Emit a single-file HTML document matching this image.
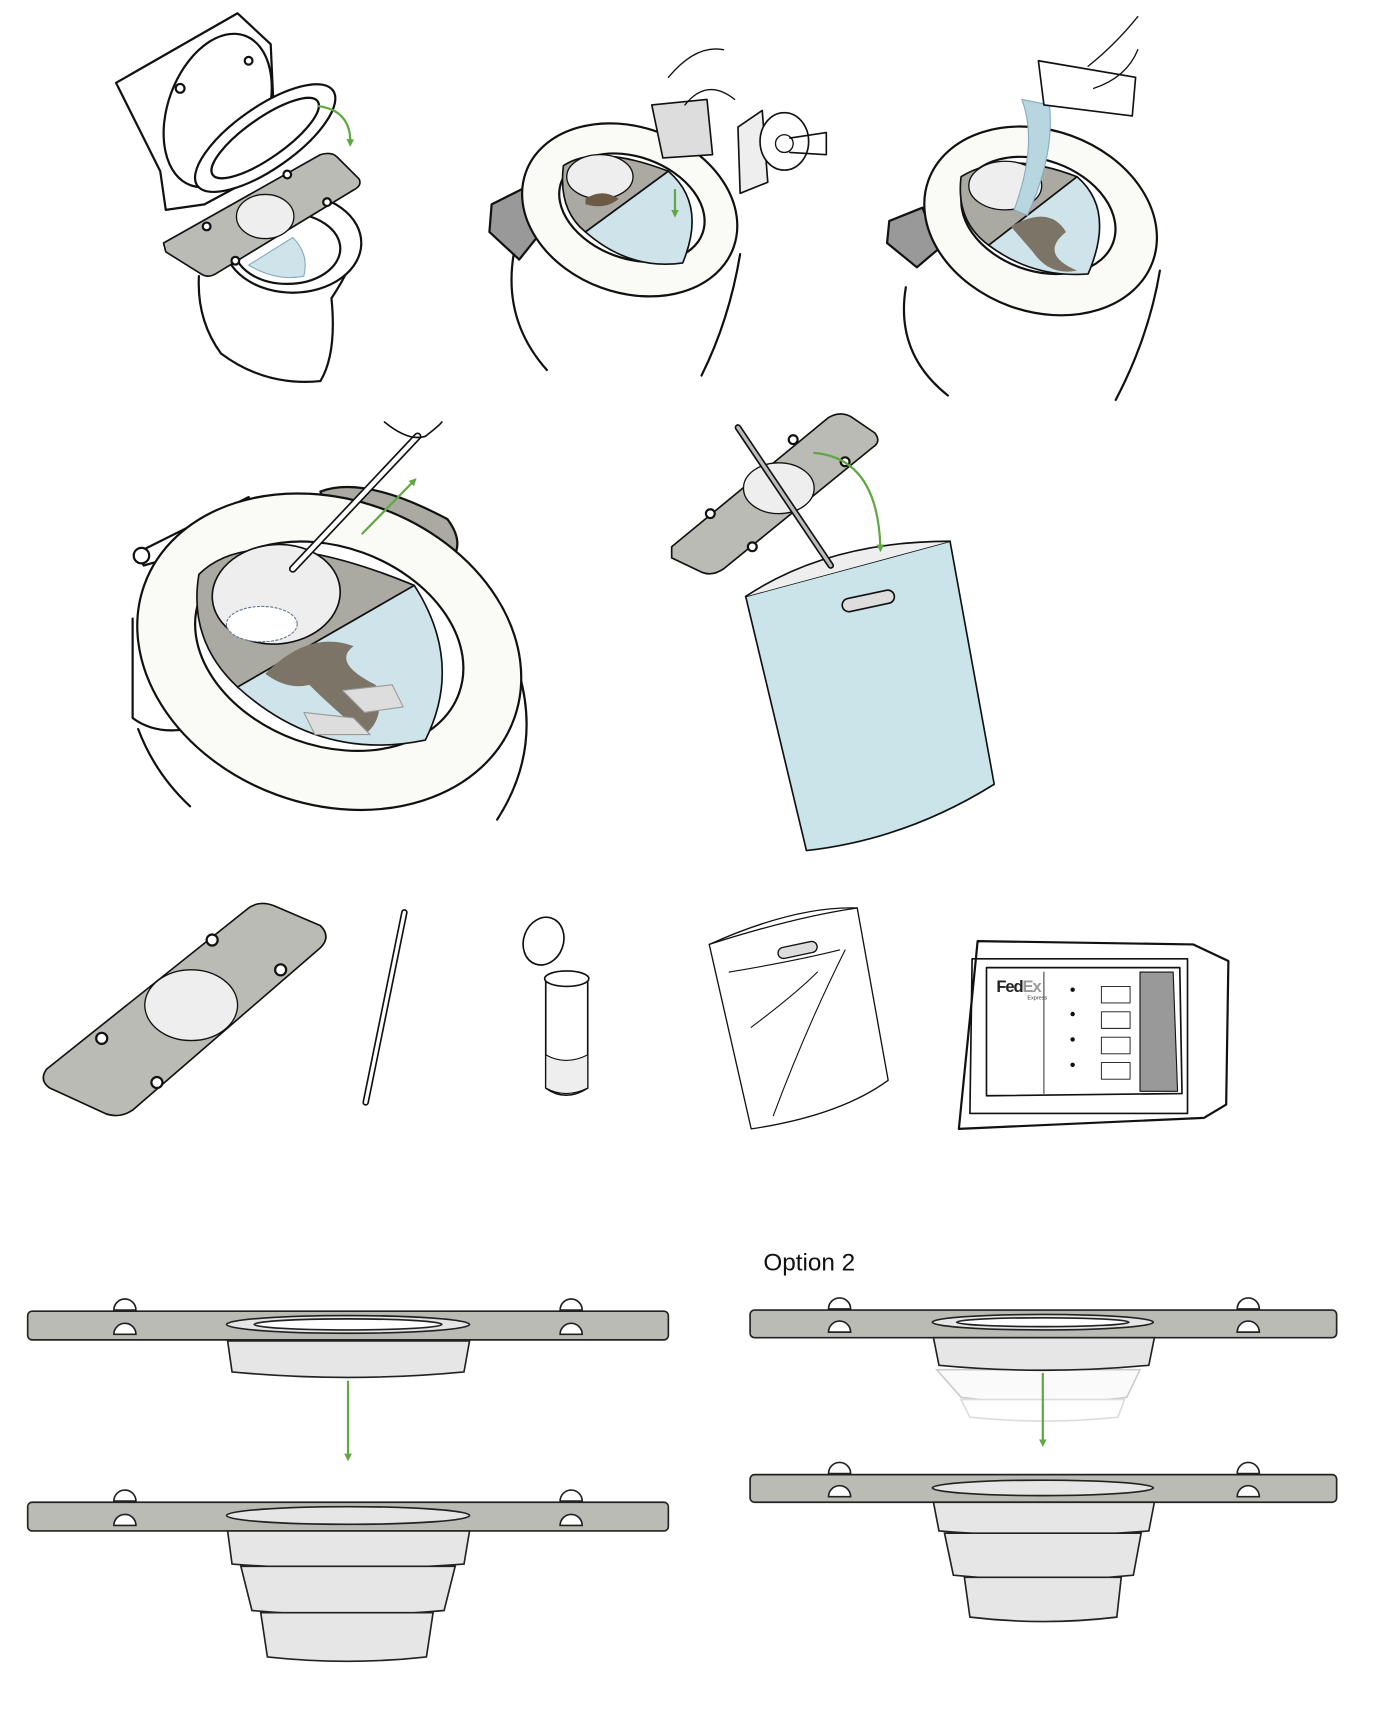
<!DOCTYPE html>
<html><head><meta charset="utf-8"><style>
html,body{margin:0;padding:0;background:#fff;}
svg{display:block;}
text{font-family:"Liberation Sans",sans-serif;}
</style></head><body>
<svg width="1382" height="1732" viewBox="0 0 1251 1568" xmlns="http://www.w3.org/2000/svg">
<defs>
<marker id="ah" markerUnits="userSpaceOnUse" markerWidth="8" markerHeight="8" refX="4" refY="4" orient="auto"><path d="M0,0.5 L7,4 L0,7.5 z" fill="#5fa844"/></marker>
</defs>
<g fill="none" stroke="#111" stroke-width="2" stroke-linejoin="round" stroke-linecap="round">

<!-- Panel 1 -->
<path d="M105,75 L215,12 L245,40 L250,150 L185,185 L150,190 L145,155 Z" fill="#fff"/>
<ellipse cx="197" cy="100" rx="45" ry="72" transform="rotate(20 197 100)" fill="#fff"/>
<circle cx="163" cy="80" r="4"/><circle cx="225" cy="55" r="3.5"/>
<path d="M180,250 Q178,290 200,320 Q240,350 290,345 Q305,320 300,270 Q320,240 325,215"/>
<ellipse cx="265" cy="220" rx="62" ry="45" fill="#fff"/>
<ellipse cx="260" cy="225" rx="48" ry="32"/>
<path d="M225,240 Q250,255 275,250 Q280,230 265,215 Z" fill="#cfe4ea" stroke="#8ab" stroke-width="1"/>
<ellipse cx="240" cy="125" rx="75" ry="28" transform="rotate(-35 240 125)" fill="#fff"/>
<ellipse cx="240" cy="125" rx="58" ry="18" transform="rotate(-35 240 125)"/>
<path d="M148,220 L290,140 Q300,137 305,142 L325,162 Q328,168 320,172 L195,248 Q188,252 182,248 L150,228 Z" fill="#bbbbb5" stroke-width="1.5"/>
<ellipse cx="240" cy="196" rx="26" ry="20" fill="#eee" stroke-width="1.2"/>
<circle cx="260" cy="158" r="3.5" fill="#fff"/><circle cx="296" cy="183" r="3.5" fill="#fff"/><circle cx="187" cy="205" r="3.5" fill="#fff"/><circle cx="213" cy="236" r="3.5" fill="#fff"/>
<path d="M288,96 Q318,100 317,130" stroke="#5fa844" stroke-width="2" marker-end="url(#ah)"/>

<!-- Panel 2 -->
<path d="M445,185 L475,170 L490,210 L470,235 L443,210 Z" fill="#999"/>
<path d="M465,230 Q455,290 495,335"/><path d="M670,230 Q660,290 635,340"/>
<ellipse cx="570" cy="190" rx="100" ry="75" transform="rotate(20 570 190)" fill="#fafaf6"/>
<ellipse cx="572" cy="188" rx="68" ry="46" transform="rotate(20 572 188)" fill="#fff"/>
<path d="M510,150 Q540,130 605,155 L530,210 Q505,190 510,150 Z" fill="#aaa9a2" stroke-width="1.5"/>
<path d="M605,155 Q640,185 618,238 Q570,245 530,210 Z" fill="#cfe4ea" stroke-width="1.5"/>
<ellipse cx="543" cy="160" rx="30" ry="20" fill="#eee" stroke-width="1.2"/>
<path d="M530,180 Q545,170 560,180 Q548,190 530,185Z" fill="#6d5a45" stroke="none"/>
<path d="M590,95 L640,90 L645,140 L600,143 Z" fill="#ddd" stroke-width="1.5"/>
<path d="M605,70 Q630,40 655,45 M620,95 Q640,70 665,90" stroke-width="1.2"/>
<path d="M668,115 L690,100 L695,165 L670,175 Z" fill="#eee" stroke-width="1.5"/>
<ellipse cx="710" cy="128" rx="22" ry="26" fill="#fff" stroke-width="1.5"/>
<circle cx="710" cy="130" r="8" stroke-width="1.2"/>
<path d="M715,125 L748,120 L748,140 L715,138" stroke-width="1.5"/>
<path d="M611,172 L611,194" stroke="#5fa844" marker-end="url(#ah)"/>

<!-- Panel 3 -->
<path d="M805,200 L835,188 L850,225 L830,242 L803,220 Z" fill="#999"/>
<path d="M820,260 Q810,320 858,358"/><path d="M1050,245 Q1040,305 1010,362"/>
<ellipse cx="942" cy="200" rx="108" ry="82" transform="rotate(20 942 200)" fill="#fafaf6"/>
<ellipse cx="940" cy="195" rx="72" ry="50" transform="rotate(20 940 195)" fill="#fff"/>
<path d="M870,160 Q910,135 975,160 L895,222 Q865,200 870,160 Z" fill="#aaa9a2" stroke-width="1.5"/>
<path d="M975,160 Q1010,190 985,248 Q935,252 895,222 Z" fill="#cfe4ea" stroke-width="1.5"/>
<path d="M915,205 Q950,185 965,210 Q940,230 975,245 Q950,250 935,228 Z" fill="#7d7468" stroke="none"/>
<ellipse cx="910" cy="168" rx="33" ry="22" fill="#eee" stroke-width="1.2"/>
<path d="M925,90 Q940,130 918,190 L930,195 Q955,140 950,95 Z" fill="#b7d6df" stroke="#8ab" stroke-width="1"/>
<path d="M940,55 L1028,70 L1025,105 L945,95 Z" fill="#fff" stroke-width="1.5"/>
<path d="M985,60 Q1010,40 1030,15 M990,80 Q1020,70 1030,45" stroke-width="1.2"/>

<!-- Panel 4 -->
<path d="M125,500 L225,450 L240,480 L130,512 Z" fill="#fff"/>
<circle cx="128" cy="503" r="7" fill="#fff"/>
<path d="M290,445 Q330,430 405,470 Q420,490 410,505 L300,470 Z" fill="#aaa9a2"/>
<path d="M120,560 L120,650 Q140,665 170,660"/>
<path d="M172,730 Q140,700 125,660" />
<path d="M470,610 Q490,680 450,742"/>
<ellipse cx="298" cy="590" rx="178" ry="138" transform="rotate(20 298 590)" fill="#fafaf6"/>
<ellipse cx="298" cy="585" rx="125" ry="90" transform="rotate(20 298 585)" fill="#fff"/>
<path d="M180,520 Q230,470 375,530 L215,622 Q170,580 180,520 Z" fill="#aaa9a2" stroke-width="1.5"/>
<path d="M375,530 Q420,600 385,670 Q290,690 215,622 Z" fill="#cfe4ea" stroke-width="1.5"/>
<path d="M240,610 Q280,570 320,585 Q300,600 340,620 Q350,650 330,665 Q300,640 280,620 Q260,625 240,610 Z" fill="#7d7468" stroke="none"/>
<path d="M310,625 L355,620 L365,640 L330,645 Z" fill="#ddd" stroke="#999" stroke-width="1"/>
<path d="M275,645 L320,650 L335,665 L285,665 Z" fill="#ddd" stroke="#999" stroke-width="1"/>
<ellipse cx="250" cy="538" rx="58" ry="45" transform="rotate(-5 250 538)" fill="#eee" stroke-width="1.5"/>
<ellipse cx="237" cy="565" rx="32" ry="16" fill="#fff" stroke="#678" stroke-dasharray="2 2" stroke-width="1"/>
<path d="M265,515 L378,395" stroke-width="7"/><path d="M265,515 L378,395" stroke="#fff" stroke-width="4"/>
<path d="M348,382 Q370,400 385,395 Q398,385 400,382" stroke-width="1.5"/>
<path d="M328,483 L375,435" stroke="#5fa844" marker-end="url(#ah)"/>

<!-- Panel 5 -->
<path d="M675,540 L860,490 L900,710 Q820,760 730,770 Z" fill="#cae4ea" stroke-width="1.5"/>
<path d="M675,540 Q750,490 860,490" fill="#eee" stroke-width="1.5"/>
<rect x="762" y="538" width="48" height="12" rx="6" transform="rotate(-12 786 544)" fill="#ddd" stroke-width="1.5"/>
<path d="M608,495 L750,378 Q760,372 770,377 L792,392 Q798,400 790,405 L655,515 Q645,522 635,518 L608,505 Z" fill="#bbbbb5" stroke-width="1.5"/>
<ellipse cx="705" cy="442" rx="32" ry="23" fill="#eee" stroke-width="1.2"/>
<circle cx="718" cy="398" r="4" fill="#fff"/><circle cx="765" cy="418" r="4" fill="#fff"/><circle cx="643" cy="465" r="4" fill="#fff"/><circle cx="681" cy="495" r="4" fill="#fff"/>
<path d="M668,387 L752,512" stroke-width="6"/><path d="M668,387 L752,512" stroke="#bbb" stroke-width="3"/>
<path d="M737,410 Q795,415 797,497" stroke="#5fa844" marker-end="url(#ah)"/>

<!-- Row 3 items -->
<path d="M42,968 L225,822 Q235,815 248,820 L290,838 Q300,848 290,858 L120,1005 Q108,1013 95,1008 L45,985 Q35,978 42,968 Z" fill="#bbbbb5" stroke-width="1.5"/>
<ellipse cx="173" cy="910" rx="42" ry="32" fill="#eee" stroke-width="1.2"/>
<circle cx="192" cy="851" r="5" fill="#fff"/><circle cx="254" cy="878" r="5" fill="#fff"/><circle cx="92" cy="940" r="5" fill="#fff"/><circle cx="142" cy="980" r="5" fill="#fff"/>
<path d="M366,826 L331,998" stroke-width="6"/><path d="M366,826 L331,998" stroke="#fff" stroke-width="3"/>
<path d="M494,885 L494,985 Q512,998 532,985 L532,885" fill="#fff" stroke-width="1.5"/>
<path d="M494,955 Q512,965 532,955 L532,985 Q512,995 494,985 Z" fill="#eee" stroke-width="1"/>
<ellipse cx="513" cy="886" rx="20" ry="7" fill="#fff" stroke-width="1.5"/>
<ellipse cx="492" cy="852" rx="18" ry="22" transform="rotate(20 492 852)" fill="#fff" stroke-width="1.5"/>
<path d="M642,855 Q720,820 776,822 L804,978 Q760,1010 680,1022 Z" fill="#fff" stroke-width="1.2"/>
<path d="M642,855 Q720,830 776,822" stroke-width="1.2"/>
<rect x="704" y="855" width="36" height="10" rx="5" transform="rotate(-12 722 860)" fill="#ddd" stroke-width="1.2"/>
<path d="M660,880 Q720,870 760,860 M700,1010 Q730,930 765,860 M680,930 Q720,900 740,880" stroke-width="1"/>
<path d="M885,852 L1080,855 L1112,870 L1110,1000 L1090,1012 L868,1022 Z" fill="#fff" stroke-width="2"/>
<path d="M880,868 L1075,868 L1075,1008 L878,1008 Z" stroke-width="1.5"/>
<path d="M893,876 L1068,876 L1070,990 L893,992 Z" stroke-width="1.5"/>
<path d="M1032,880 L1062,880 L1066,988 L1032,988 Z" fill="#999" stroke-width="1"/>
<path d="M945,880 L945,990" stroke-width="0.8"/>
<g stroke-width="0.8"><rect x="997" y="893" width="26" height="15"/><rect x="997" y="916" width="26" height="15"/><rect x="997" y="939" width="26" height="15"/><rect x="997" y="962" width="26" height="15"/></g>
</g>
<g fill="#111"><circle cx="971" cy="896" r="2"/><circle cx="971" cy="918" r="2"/><circle cx="971" cy="941" r="2"/><circle cx="971" cy="964" r="2"/></g>
<text x="902" y="898" font-size="15" font-weight="bold" fill="#222" letter-spacing="-1">Fed<tspan fill="#999">Ex</tspan></text>
<text x="930" y="905" font-size="5" fill="#333">Express</text>

<!-- Bottom-left option -->
<g stroke="#222" stroke-width="1.5">
<rect x="25" y="1187" width="580" height="26" rx="4" fill="#bbbbb5"/>
<path d="M206,1214 L425,1214 L420,1242 Q315,1252 210,1242 Z" fill="#e6e6e6"/>
<ellipse cx="315" cy="1199" rx="110" ry="8" fill="#e6e6e6"/>
<ellipse cx="315" cy="1199" rx="85" ry="5" fill="#fff"/>
<path d="M103,1186 A10,10 0 0 1 123,1186 Z M103,1208 A10,10 0 0 1 123,1208 Z M507,1186 A10,10 0 0 1 527,1186 Z M507,1208 A10,10 0 0 1 527,1208 Z" fill="#fff"/>
<rect x="25" y="1360" width="580" height="26" rx="4" fill="#bbbbb5"/>
<path d="M206,1386 L425,1386 L420,1416 Q315,1424 210,1416 Z" fill="#e6e6e6"/>
<path d="M218,1418 L412,1418 L402,1458 Q315,1466 228,1458 Z" fill="#e6e6e6"/>
<path d="M236,1460 L392,1460 L386,1500 Q315,1508 242,1500 Z" fill="#e6e6e6"/>
<ellipse cx="315" cy="1372" rx="110" ry="8" fill="#e6e6e6"/>
<path d="M103,1359 A10,10 0 0 1 123,1359 Z M103,1381 A10,10 0 0 1 123,1381 Z M507,1359 A10,10 0 0 1 527,1359 Z M507,1381 A10,10 0 0 1 527,1381 Z" fill="#fff"/>
</g>
<path d="M315,1250 L315,1320" stroke="#5fa844" stroke-width="2" marker-end="url(#ah)"/>

<!-- Option 2 -->
<text x="691" y="1150" font-size="22" fill="#111">Option 2</text>
<g stroke="#222" stroke-width="1.5">
<path d="M848,1240 L1032,1240 L1020,1265 Q945,1275 870,1265 Z" fill="#fafafa" stroke="#ccc"/>
<path d="M870,1267 L1018,1267 L1012,1283 Q945,1290 878,1283 Z" fill="#fff" stroke="#ddd"/>
<rect x="679" y="1186" width="531" height="25" rx="4" fill="#bbbbb5"/>
<path d="M845,1211 L1045,1211 L1040,1236 Q945,1245 850,1236 Z" fill="#e6e6e6"/>
<ellipse cx="944" cy="1197" rx="100" ry="7" fill="#e6e6e6"/>
<ellipse cx="944" cy="1197" rx="78" ry="4" fill="#fff"/>
<path d="M750,1185 A10,10 0 0 1 770,1185 Z M750,1206 A10,10 0 0 1 770,1206 Z M1120,1185 A10,10 0 0 1 1140,1185 Z M1120,1206 A10,10 0 0 1 1140,1206 Z" fill="#fff"/>
<rect x="679" y="1335" width="531" height="25" rx="4" fill="#bbbbb5"/>
<path d="M845,1360 L1045,1360 L1040,1386 Q945,1394 850,1386 Z" fill="#e6e6e6"/>
<path d="M855,1388 L1033,1388 L1026,1426 Q945,1434 863,1426 Z" fill="#e6e6e6"/>
<path d="M873,1428 L1015,1428 L1011,1464 Q945,1472 878,1464 Z" fill="#e6e6e6"/>
<ellipse cx="944" cy="1347" rx="100" ry="7" fill="#e6e6e6"/>
<path d="M750,1334 A10,10 0 0 1 770,1334 Z M750,1355 A10,10 0 0 1 770,1355 Z M1120,1334 A10,10 0 0 1 1140,1334 Z M1120,1355 A10,10 0 0 1 1140,1355 Z" fill="#fff"/>
</g>
<path d="M944,1243 L944,1307" stroke="#5fa844" stroke-width="2" marker-end="url(#ah)"/>
</svg>
</body></html>
